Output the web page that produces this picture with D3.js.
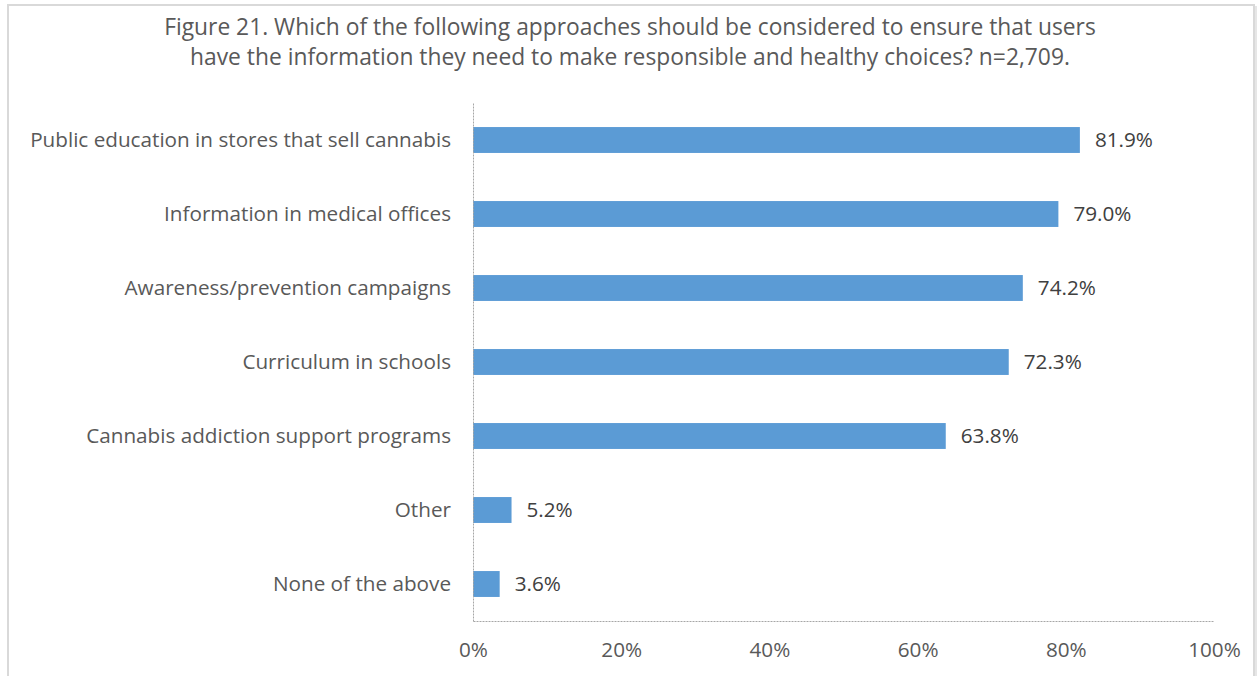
<!DOCTYPE html>
<html>
<head>
<meta charset="utf-8">
<script src="https://cdn.jsdelivr.net/npm/d3@7"></script>
<style>
  html, body { margin: 0; padding: 0; background: #fff; }
  svg { display: block; }
</style>
</head>
<body>
<svg id="chart" width="1260" height="676"></svg>
<script>
// Survey responses: approaches to inform users (percent of respondents)
const categories = [
  "Public education in stores that sell cannabis",
  "Information in medical offices",
  "Awareness/prevention campaigns",
  "Curriculum in schools",
  "Cannabis addiction support programs",
  "Other",
  "None of the above"
];
const values = [81.9, 79.0, 74.2, 72.3, 63.8, 5.2, 3.6];
const xTicks = [0, 20, 40, 60, 80, 100];
const titleLines = [
  "Figure 21. Which of the following approaches should be considered to ensure that users",
  "have the information they need to make responsible and healthy choices? n=2,709."
];

const W = 1260, H = 676;
const margin = { top: 103, left: 473, right: 46, bottom: 55 };
const font = "'Open Sans', sans-serif";
const textColor = "#595959";
const labelSize = 20.7;

const svg = d3.select("#chart");

// Outer frame with a soft shadow on the right
svg.append("rect").attr("x", 1254).attr("y", 6).attr("width", 3).attr("height", H)
  .attr("fill", "#e6e6e6");
svg.append("rect").attr("x", 8).attr("y", 5).attr("width", 1246).attr("height", H)
  .attr("fill", "#fff").attr("stroke", "#d9d9d9").attr("stroke-width", 2);

// Title
svg.append("g").selectAll("text").data(titleLines).join("text")
  .attr("x", 630).attr("y", (d, i) => 35 + i * 30)
  .attr("text-anchor", "middle")
  .attr("font-family", font).attr("font-size", 22.8)
  .attr("fill", textColor)
  .text(d => d);

const x = d3.scaleLinear().domain([0, 100]).range([margin.left, W - margin.right]);
const y = d3.scaleBand().domain(categories)
  .range([margin.top, H - margin.bottom]).paddingInner(0.65).paddingOuter(0.325);

// Bars
svg.append("g").selectAll("rect").data(categories).join("rect")
  .attr("x", x(0)).attr("y", d => y(d))
  .attr("width", (d, i) => x(values[i]) - x(0))
  .attr("height", y.bandwidth())
  .attr("fill", "#5b9bd5");

// Value labels
svg.append("g").selectAll("text").data(categories).join("text")
  .attr("x", (d, i) => x(values[i]) + 15)
  .attr("y", d => y(d) + y.bandwidth() / 2)
  .attr("dy", "0.35em")
  .attr("font-family", font).attr("font-size", labelSize)
  .attr("fill", "#404040")
  .text((d, i) => values[i].toFixed(1) + "%");

// Category axis (dotted line, no ticks)
const yAxis = svg.append("g").attr("transform", `translate(${x(0)},0)`)
  .call(d3.axisLeft(y).tickSize(0).tickPadding(22));
yAxis.select(".domain").attr("stroke", "#a6a6a6").attr("stroke-dasharray", "2,1");
yAxis.selectAll("text").attr("font-family", font).attr("font-size", labelSize).attr("fill", textColor);

// Value axis
const xAxis = svg.append("g").attr("transform", `translate(0,${H - margin.bottom})`)
  .call(d3.axisBottom(x).tickValues(xTicks).tickSize(0).tickPadding(21).tickFormat(d => d + "%"));
xAxis.select(".domain").attr("stroke", "#a6a6a6").attr("stroke-dasharray", "2,1");
xAxis.selectAll("text").attr("font-family", font).attr("font-size", labelSize).attr("fill", textColor);
</script>
</body>
</html>
